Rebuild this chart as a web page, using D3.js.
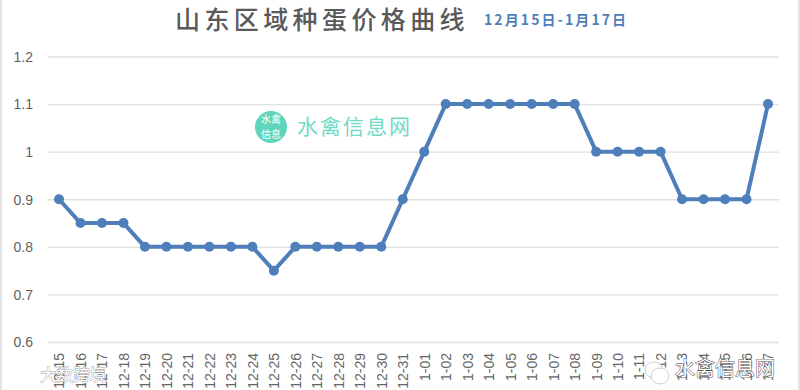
<!DOCTYPE html>
<html><head><meta charset="utf-8">
<script src="https://cdnjs.cloudflare.com/ajax/libs/d3/7.8.5/d3.min.js"></script>
<style>html,body{margin:0;padding:0;background:#fff;overflow:hidden}svg{display:block}</style>
</head><body><svg id="c" width="800" height="390"></svg>
<script>
const categories = ["12-15","12-16","12-17","12-18","12-19","12-20","12-21","12-22","12-23","12-24","12-25","12-26","12-27","12-28","12-29","12-30","12-31","1-01","1-02","1-03","1-04","1-05","1-06","1-07","1-08","1-09","1-10","1-11","1-12","1-13","1-14","1-15","1-16","1-17"];
const prices = [0.9,0.85,0.85,0.85,0.8,0.8,0.8,0.8,0.8,0.8,0.75,0.8,0.8,0.8,0.8,0.8,0.9,1,1.1,1.1,1.1,1.1,1.1,1.1,1.1,1,1,1,1,0.9,0.9,0.9,0.9,1.1];
const yTicks = [0.6,0.7,0.8,0.9,1,1.1,1.2];
const yTickLabels = ["0.6","0.7","0.8","0.9","1","1.1","1.2"];
const title = "山东区域种蛋价格曲线";
const subtitle = "12月15日-1月17日";

const svg = d3.select("#c");
const CJK = "'Noto Sans CJK SC','Noto Sans',sans-serif";
const LAT = "'Liberation Sans',Roboto,sans-serif";
const blue = "#4f7fba";

svg.append("rect").attr("x",0).attr("y",0).attr("width",2).attr("height",390).attr("fill","#e2e2e2");
svg.append("rect").attr("x",798).attr("y",0).attr("width",2).attr("height",390).attr("fill","#e2e2e2");

const x = d3.scalePoint().domain(categories).range([59,768]);
const y = d3.scaleLinear().domain([0.6,1.2]).range([342,56.5]);

const yAxis = d3.axisLeft(y).tickValues(yTicks).tickFormat((d,i)=>yTickLabels[i]).tickSize(0).tickPadding(0);
const yg = svg.append("g").attr("transform","translate(48,0)").call(yAxis);
yg.select(".domain").remove();
yg.selectAll("text").attr("x",-15).attr("dy","0.35em").attr("font-family",LAT).attr("font-size",14).attr("fill","#5f5f5f");
yg.selectAll(".tick").append("line").attr("x1",0).attr("x2",731).attr("stroke","#e0e0e0").attr("stroke-width",1.4);

const xAxis = d3.axisBottom(x).tickSize(0);
const xg = svg.append("g").attr("transform","translate(0,342)").call(xAxis);
xg.select(".domain").remove();
xg.selectAll("text").attr("transform","rotate(-90)").attr("x",-11).attr("y",0).attr("dy","0.35em")
  .attr("text-anchor","end").attr("font-family",LAT).attr("font-size",14).attr("fill","#666");

svg.append("path").datum(prices)
  .attr("d",d3.line().x((d,i)=>x(categories[i])).y(d=>y(d)))
  .attr("fill","none").attr("stroke",blue).attr("stroke-width",4).attr("stroke-linejoin","round");
svg.append("g").selectAll("circle").data(prices).join("circle")
  .attr("cx",(d,i)=>x(categories[i])).attr("cy",d=>y(d)).attr("r",5).attr("fill",blue);

svg.append("text").attr("x",175).attr("y",29).attr("font-family",CJK).attr("font-size",25).attr("font-weight",500).attr("fill","#595959").attr("letter-spacing",4.4).text(title);
svg.append("text").attr("x",484).attr("y",25).attr("font-family",CJK).attr("font-size",14).attr("font-weight",700).attr("fill",blue).attr("letter-spacing",2.1).text(subtitle);

// centre logo watermark
svg.append("circle").attr("cx",271).attr("cy",127).attr("r",16).attr("fill","#5fd6bb");
svg.append("text").attr("x",271).attr("y",123).attr("text-anchor","middle").attr("font-family",CJK).attr("font-size",10).attr("fill","#fff").text("水禽");
svg.append("text").attr("x",271).attr("y",138).attr("text-anchor","middle").attr("font-family",CJK).attr("font-size",10).attr("fill","#fff").text("信息");
svg.append("text").attr("x",297).attr("y",134).attr("font-family",CJK).attr("font-size",21).attr("fill","#6fdcc4").attr("letter-spacing",2).text("水禽信息网");

// photo watermarks
svg.append("text").attr("x",40).attr("y",381).attr("font-family",CJK).attr("font-size",16.5).attr("fill","#fff").attr("stroke","#999").attr("stroke-width",0.8).attr("paint-order","stroke").text("大数跨境");
const wl = svg.append("g").attr("fill","none").attr("stroke","#fff").attr("stroke-width",1.6);
wl.append("path").attr("d","M11 371V386M22 369C14 372 14 384 23 386");
wl.append("circle").attr("cx",26).attr("cy",369).attr("r",2.6);
wl.append("circle").attr("cx",33).attr("cy",369).attr("r",2.6);
svg.append("text").attr("x",675).attr("y",376).attr("font-family",CJK).attr("font-size",20).attr("fill","#fff").attr("stroke","#555").attr("stroke-width",1).attr("paint-order","stroke").text("水禽信息网");
const wm = svg.append("g").attr("fill","#fff").attr("stroke","#bbb").attr("stroke-width",0.7);
wm.append("ellipse").attr("cx",654).attr("cy",370).attr("rx",9).attr("ry",8);
wm.append("ellipse").attr("cx",660).attr("cy",376).attr("rx",9).attr("ry",8);
</script></body></html>
